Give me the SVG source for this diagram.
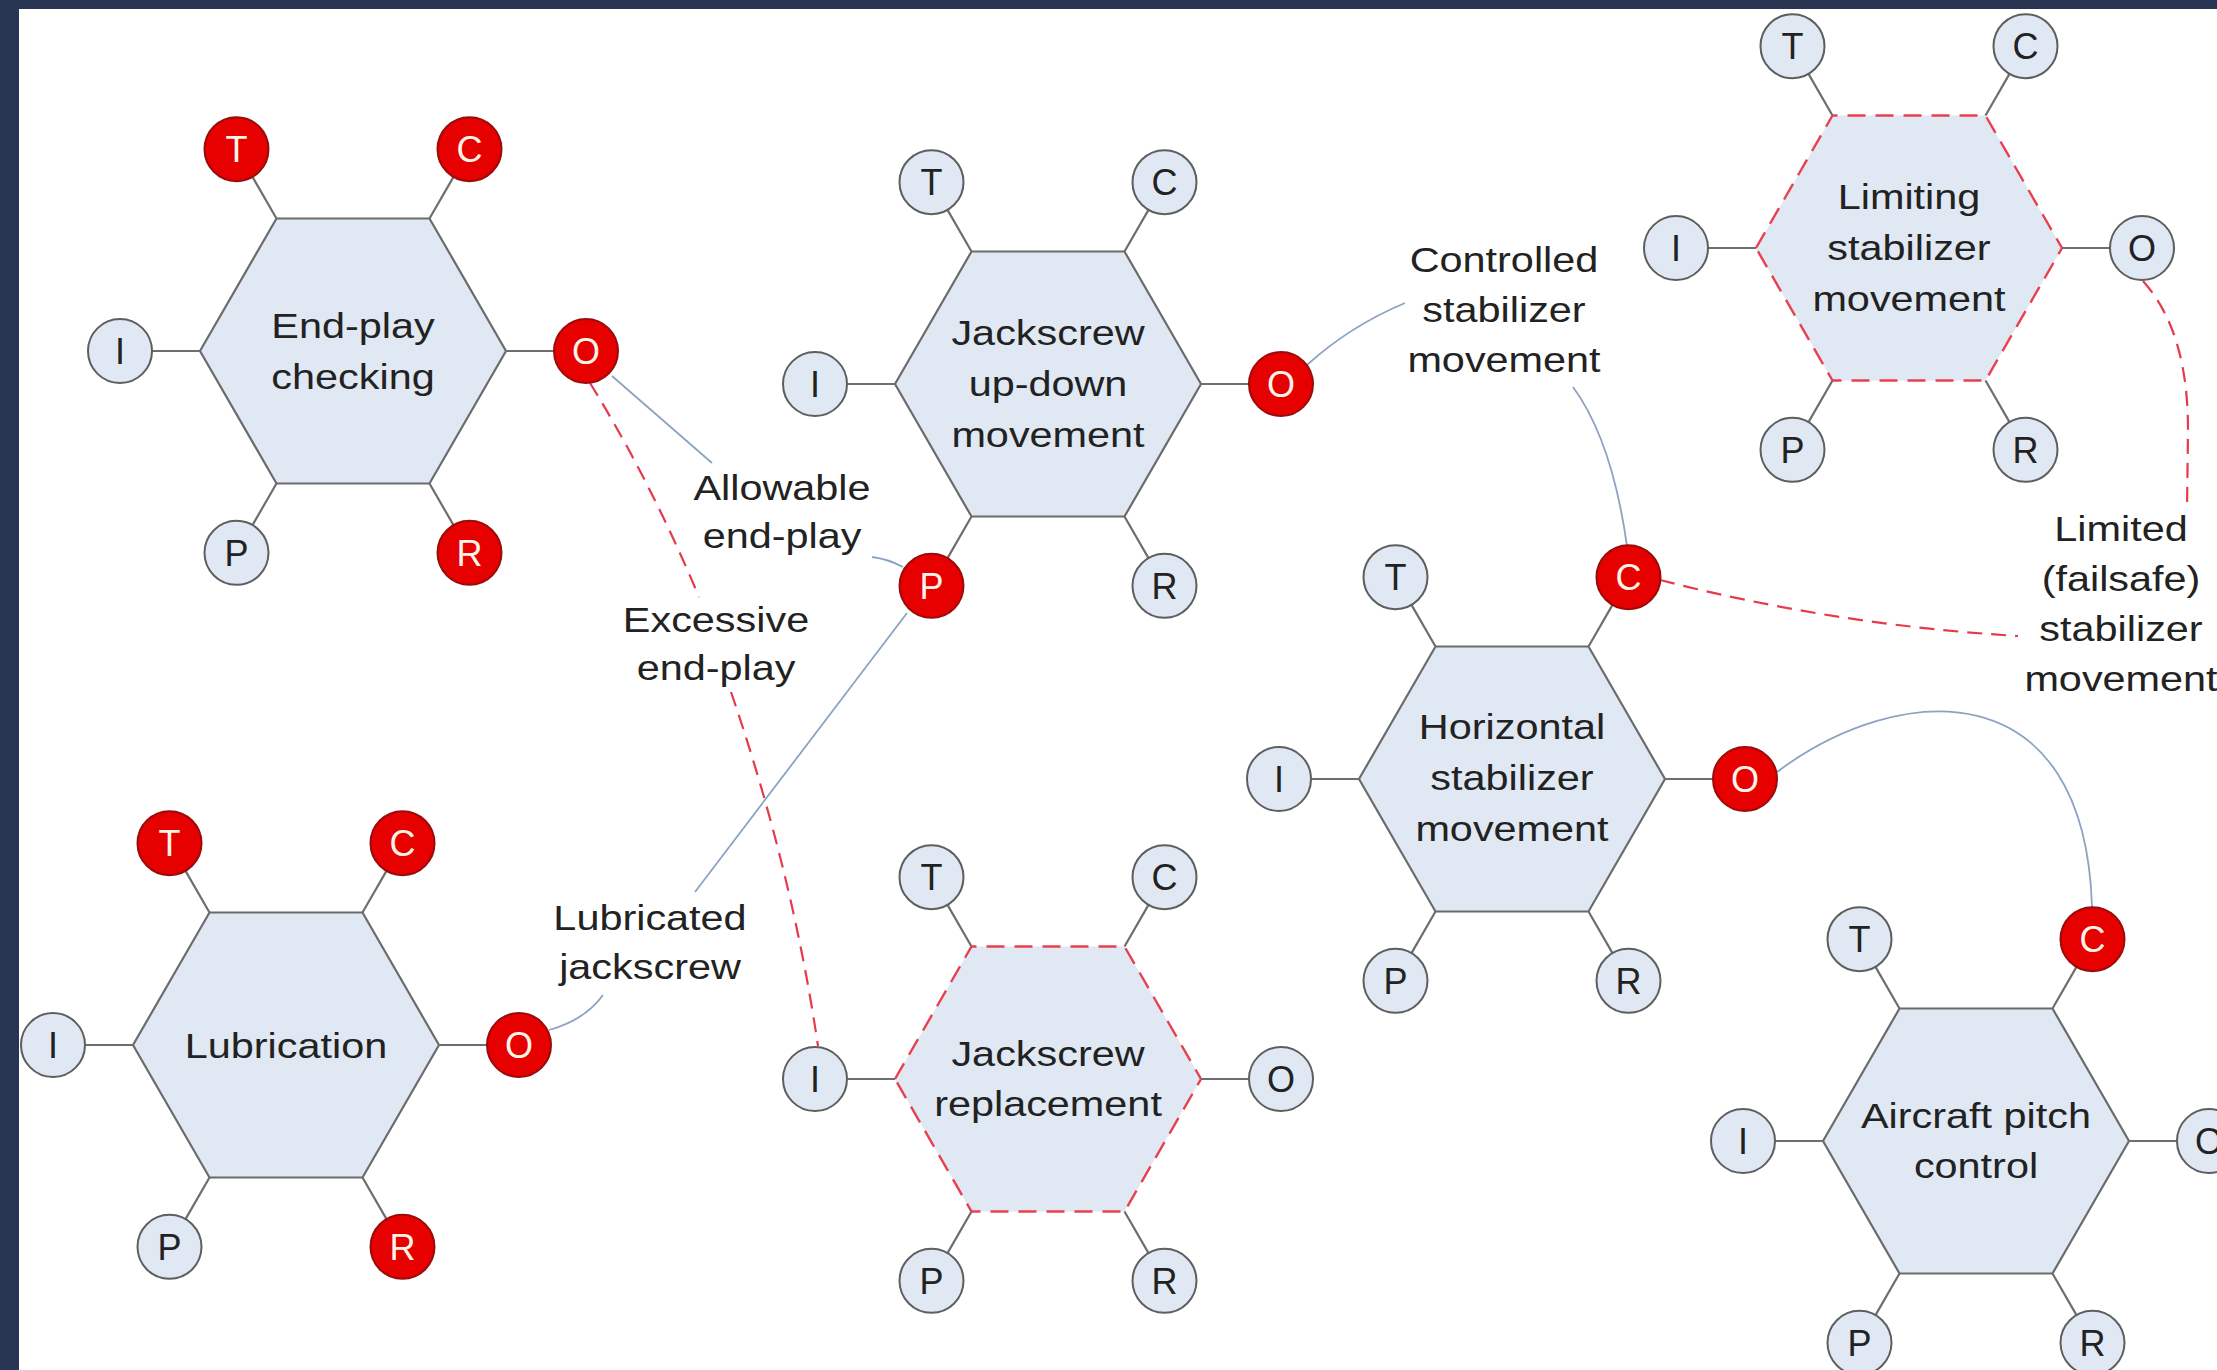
<svg xmlns="http://www.w3.org/2000/svg" xmlns:xlink="http://www.w3.org/1999/xlink" width="2217" height="1370" viewBox="0 0 2217 1370">
<style>
.hex{fill:#e0e8f3;stroke:#6b6b6b;stroke-width:2.2}
.hexd{fill:#e0e8f3;stroke:#e8404e;stroke-width:2.4;stroke-dasharray:18 10}
.lt{fill:#e0e8f3;stroke:#5e5e5e;stroke-width:2}
.rd{fill:#e60000;stroke:#9a0c0c;stroke-width:2}
.let{font-family:"Liberation Sans",Arial,sans-serif;font-size:36px;text-anchor:middle}
.ltt{fill:#222}
.rdt{fill:#fff4e8}
.lbl{font-family:"Liberation Sans",Arial,sans-serif;font-size:36px;text-anchor:middle;fill:#222}
.con{fill:none;stroke:#8da3c2;stroke-width:1.8}
.red{fill:none;stroke:#e63a4c;stroke-width:2.2;stroke-dasharray:15 9}
</style>
<defs>
<polygon id="hexshape" points="-153,0 -76.5,-132.5 76.5,-132.5 153,0 76.5,132.5 -76.5,132.5"/>
<path id="spokes" d="M-76.5,-132.5 L-100.5,-174.1 M76.5,-132.5 L100.5,-174.1 M-153,0 L-201,0 M153,0 L201,0 M-76.5,132.5 L-100.5,174.1 M76.5,132.5 L100.5,174.1" fill="none" stroke="#6e6e6e" stroke-width="2.2"/>
</defs>
<rect x="0" y="0" width="2217" height="1370" fill="#ffffff"/>
<rect x="0" y="0" width="2217" height="9" fill="#283654"/>
<rect x="0" y="0" width="19" height="1370" fill="#283654"/>

<g id="connectors">
<path class="con" d="M612,376 L712,463"/>
<path class="con" d="M872,557 Q888,559 903,567"/>
<path class="red" d="M590,383 Q650,480 699,597"/>
<path class="red" d="M731,692 Q792,870 818,1046"/>
<path class="con" d="M907,613 L695,892"/>
<path class="con" d="M603,995 Q585,1020 549,1030"/>
<path class="con" d="M1307,365 Q1350,326 1405,303"/>
<path class="con" d="M1573,387 Q1612,440 1627,546"/>
<path class="red" d="M1660,580 Q1835,625 2018,636"/>
<path class="red" d="M2143,281 C2176,318 2188,370 2188,430 L2187,510"/>
<path class="con" d="M1777,772 C1900,680 2085,670 2092,907"/>
<text class="lbl" transform="translate(782 0) scale(1.15 1)"><tspan x="0" y="500">Allowable</tspan><tspan x="0" y="548">end-play</tspan></text>
<text class="lbl" transform="translate(716 0) scale(1.15 1)"><tspan x="0" y="632">Excessive</tspan><tspan x="0" y="680">end-play</tspan></text>
<text class="lbl" transform="translate(650 0) scale(1.15 1)"><tspan x="0" y="930">Lubricated</tspan><tspan x="0" y="979">jackscrew</tspan></text>
<text class="lbl" transform="translate(1504 0) scale(1.15 1)"><tspan x="0" y="272">Controlled</tspan><tspan x="0" y="322">stabilizer</tspan><tspan x="0" y="372">movement</tspan></text>
<text class="lbl" transform="translate(2121 0) scale(1.15 1)"><tspan x="0" y="541">Limited</tspan><tspan x="0" y="591">(failsafe)</tspan><tspan x="0" y="641">stabilizer</tspan><tspan x="0" y="691">movement</tspan></text>
</g>

<g id="n-endplay" transform="translate(353 351)">
<use xlink:href="#hexshape" class="hex"/>
<use xlink:href="#spokes"/>
<circle class="rd" cx="-116.5" cy="-201.8" r="32"/><text class="let rdt" x="-116.5" y="-188.8">T</text>
<circle class="rd" cx="116.5" cy="-201.8" r="32"/><text class="let rdt" x="116.5" y="-188.8">C</text>
<circle class="lt" cx="-233" cy="0" r="32"/><text class="let ltt" x="-233" y="13">I</text>
<circle class="rd" cx="233" cy="0" r="32"/><text class="let rdt" x="233" y="13">O</text>
<circle class="lt" cx="-116.5" cy="201.8" r="32"/><text class="let ltt" x="-116.5" y="214.8">P</text>
<circle class="rd" cx="116.5" cy="201.8" r="32"/><text class="let rdt" x="116.5" y="214.8">R</text>
<text class="lbl" transform="scale(1.15 1)"><tspan x="0" y="-13">End-play</tspan><tspan x="0" y="38">checking</tspan></text>
</g>

<g id="n-lubrication" transform="translate(286 1045)">
<use xlink:href="#hexshape" class="hex"/>
<use xlink:href="#spokes"/>
<circle class="rd" cx="-116.5" cy="-201.8" r="32"/><text class="let rdt" x="-116.5" y="-188.8">T</text>
<circle class="rd" cx="116.5" cy="-201.8" r="32"/><text class="let rdt" x="116.5" y="-188.8">C</text>
<circle class="lt" cx="-233" cy="0" r="32"/><text class="let ltt" x="-233" y="13">I</text>
<circle class="rd" cx="233" cy="0" r="32"/><text class="let rdt" x="233" y="13">O</text>
<circle class="lt" cx="-116.5" cy="201.8" r="32"/><text class="let ltt" x="-116.5" y="214.8">P</text>
<circle class="rd" cx="116.5" cy="201.8" r="32"/><text class="let rdt" x="116.5" y="214.8">R</text>
<text class="lbl" transform="scale(1.15 1)"><tspan x="0" y="13">Lubrication</tspan></text>
</g>

<g id="n-jackscrew-updown" transform="translate(1048 384)">
<use xlink:href="#hexshape" class="hex"/>
<use xlink:href="#spokes"/>
<circle class="lt" cx="-116.5" cy="-201.8" r="32"/><text class="let ltt" x="-116.5" y="-188.8">T</text>
<circle class="lt" cx="116.5" cy="-201.8" r="32"/><text class="let ltt" x="116.5" y="-188.8">C</text>
<circle class="lt" cx="-233" cy="0" r="32"/><text class="let ltt" x="-233" y="13">I</text>
<circle class="rd" cx="233" cy="0" r="32"/><text class="let rdt" x="233" y="13">O</text>
<circle class="rd" cx="-116.5" cy="201.8" r="32"/><text class="let rdt" x="-116.5" y="214.8">P</text>
<circle class="lt" cx="116.5" cy="201.8" r="32"/><text class="let ltt" x="116.5" y="214.8">R</text>
<text class="lbl" transform="scale(1.15 1)"><tspan x="0" y="-39">Jackscrew</tspan><tspan x="0" y="12">up-down</tspan><tspan x="0" y="63">movement</tspan></text>
</g>

<g id="n-jackscrew-replacement" transform="translate(1048 1079)">
<use xlink:href="#hexshape" class="hexd"/>
<use xlink:href="#spokes"/>
<circle class="lt" cx="-116.5" cy="-201.8" r="32"/><text class="let ltt" x="-116.5" y="-188.8">T</text>
<circle class="lt" cx="116.5" cy="-201.8" r="32"/><text class="let ltt" x="116.5" y="-188.8">C</text>
<circle class="lt" cx="-233" cy="0" r="32"/><text class="let ltt" x="-233" y="13">I</text>
<circle class="lt" cx="233" cy="0" r="32"/><text class="let ltt" x="233" y="13">O</text>
<circle class="lt" cx="-116.5" cy="201.8" r="32"/><text class="let ltt" x="-116.5" y="214.8">P</text>
<circle class="lt" cx="116.5" cy="201.8" r="32"/><text class="let ltt" x="116.5" y="214.8">R</text>
<text class="lbl" transform="scale(1.15 1)"><tspan x="0" y="-13">Jackscrew</tspan><tspan x="0" y="37">replacement</tspan></text>
</g>

<g id="n-limiting" transform="translate(1909 248)">
<use xlink:href="#hexshape" class="hexd"/>
<use xlink:href="#spokes"/>
<circle class="lt" cx="-116.5" cy="-201.8" r="32"/><text class="let ltt" x="-116.5" y="-188.8">T</text>
<circle class="lt" cx="116.5" cy="-201.8" r="32"/><text class="let ltt" x="116.5" y="-188.8">C</text>
<circle class="lt" cx="-233" cy="0" r="32"/><text class="let ltt" x="-233" y="13">I</text>
<circle class="lt" cx="233" cy="0" r="32"/><text class="let ltt" x="233" y="13">O</text>
<circle class="lt" cx="-116.5" cy="201.8" r="32"/><text class="let ltt" x="-116.5" y="214.8">P</text>
<circle class="lt" cx="116.5" cy="201.8" r="32"/><text class="let ltt" x="116.5" y="214.8">R</text>
<text class="lbl" transform="scale(1.15 1)"><tspan x="0" y="-39">Limiting</tspan><tspan x="0" y="12">stabilizer</tspan><tspan x="0" y="63">movement</tspan></text>
</g>

<g id="n-horizontal" transform="translate(1512 779)">
<use xlink:href="#hexshape" class="hex"/>
<use xlink:href="#spokes"/>
<circle class="lt" cx="-116.5" cy="-201.8" r="32"/><text class="let ltt" x="-116.5" y="-188.8">T</text>
<circle class="rd" cx="116.5" cy="-201.8" r="32"/><text class="let rdt" x="116.5" y="-188.8">C</text>
<circle class="lt" cx="-233" cy="0" r="32"/><text class="let ltt" x="-233" y="13">I</text>
<circle class="rd" cx="233" cy="0" r="32"/><text class="let rdt" x="233" y="13">O</text>
<circle class="lt" cx="-116.5" cy="201.8" r="32"/><text class="let ltt" x="-116.5" y="214.8">P</text>
<circle class="lt" cx="116.5" cy="201.8" r="32"/><text class="let ltt" x="116.5" y="214.8">R</text>
<text class="lbl" transform="scale(1.15 1)"><tspan x="0" y="-40">Horizontal</tspan><tspan x="0" y="11">stabilizer</tspan><tspan x="0" y="62">movement</tspan></text>
</g>

<g id="n-aircraft-pitch" transform="translate(1976 1141)">
<use xlink:href="#hexshape" class="hex"/>
<use xlink:href="#spokes"/>
<circle class="lt" cx="-116.5" cy="-201.8" r="32"/><text class="let ltt" x="-116.5" y="-188.8">T</text>
<circle class="rd" cx="116.5" cy="-201.8" r="32"/><text class="let rdt" x="116.5" y="-188.8">C</text>
<circle class="lt" cx="-233" cy="0" r="32"/><text class="let ltt" x="-233" y="13">I</text>
<circle class="lt" cx="233" cy="0" r="32"/><text class="let ltt" x="233" y="13">O</text>
<circle class="lt" cx="-116.5" cy="201.8" r="32"/><text class="let ltt" x="-116.5" y="214.8">P</text>
<circle class="lt" cx="116.5" cy="201.8" r="32"/><text class="let ltt" x="116.5" y="214.8">R</text>
<text class="lbl" transform="scale(1.15 1)"><tspan x="0" y="-13">Aircraft pitch</tspan><tspan x="0" y="37">control</tspan></text>
</g>
</svg>
